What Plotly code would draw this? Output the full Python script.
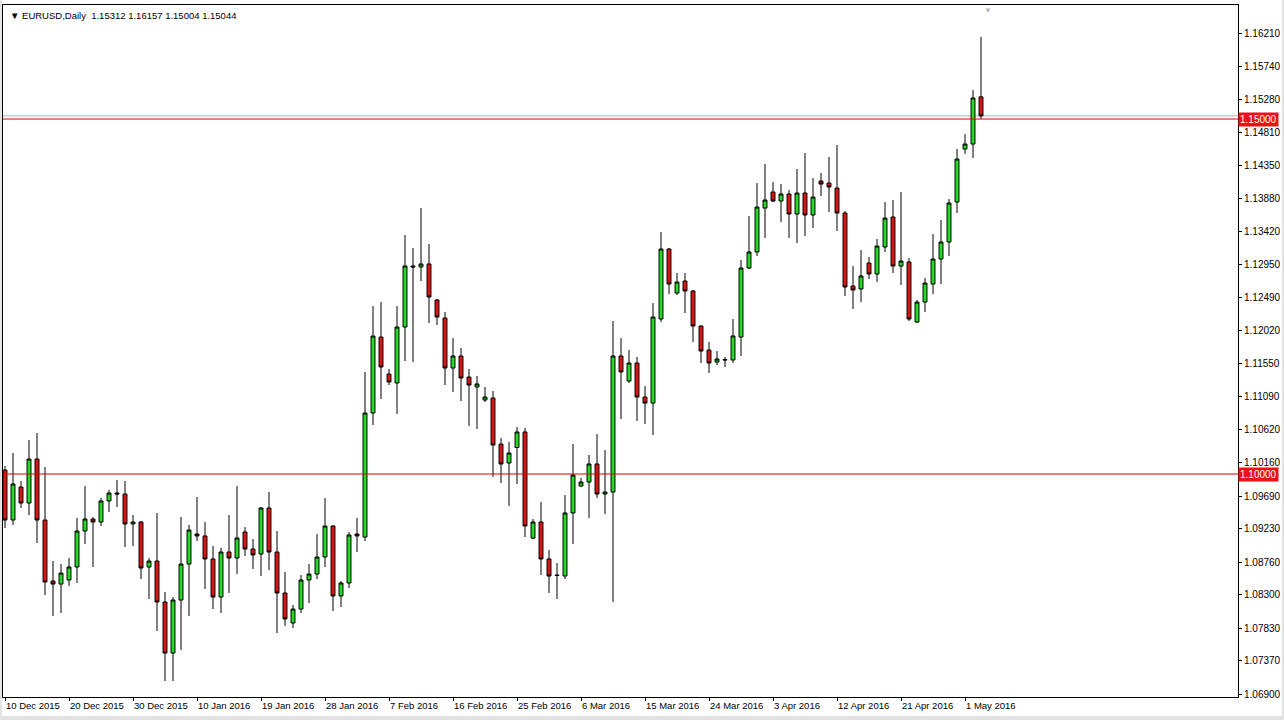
import plotly.graph_objects as go

dates = [
    "2015-12-10", "2015-12-11", "2015-12-13", "2015-12-14", "2015-12-15", "2015-12-16", "2015-12-17", "2015-12-18",
    "2015-12-20", "2015-12-21", "2015-12-22", "2015-12-23", "2015-12-24", "2015-12-27", "2015-12-28", "2015-12-29",
    "2015-12-30", "2015-12-31", "2016-01-03", "2016-01-04", "2016-01-05", "2016-01-06", "2016-01-07", "2016-01-08",
    "2016-01-10", "2016-01-11", "2016-01-12", "2016-01-13", "2016-01-14", "2016-01-15", "2016-01-17", "2016-01-18",
    "2016-01-19", "2016-01-20", "2016-01-21", "2016-01-22", "2016-01-24", "2016-01-25", "2016-01-26", "2016-01-27",
    "2016-01-28", "2016-01-29", "2016-01-31", "2016-02-01", "2016-02-02", "2016-02-03", "2016-02-04", "2016-02-05",
    "2016-02-07", "2016-02-08", "2016-02-09", "2016-02-10", "2016-02-11", "2016-02-12", "2016-02-14", "2016-02-15",
    "2016-02-16", "2016-02-17", "2016-02-18", "2016-02-19", "2016-02-21", "2016-02-22", "2016-02-23", "2016-02-24",
    "2016-02-25", "2016-02-26", "2016-02-28", "2016-02-29", "2016-03-01", "2016-03-02", "2016-03-03", "2016-03-04",
    "2016-03-06", "2016-03-07", "2016-03-08", "2016-03-09", "2016-03-10", "2016-03-11", "2016-03-13", "2016-03-14",
    "2016-03-15", "2016-03-16", "2016-03-17", "2016-03-18", "2016-03-20", "2016-03-21", "2016-03-22", "2016-03-23",
    "2016-03-24", "2016-03-25", "2016-03-27", "2016-03-28", "2016-03-29", "2016-03-30", "2016-03-31", "2016-04-01",
    "2016-04-03", "2016-04-04", "2016-04-05", "2016-04-06", "2016-04-07", "2016-04-08", "2016-04-10", "2016-04-11",
    "2016-04-12", "2016-04-13", "2016-04-14", "2016-04-15", "2016-04-17", "2016-04-18", "2016-04-19", "2016-04-20",
    "2016-04-21", "2016-04-22", "2016-04-24", "2016-04-25", "2016-04-26", "2016-04-27", "2016-04-28", "2016-04-29",
    "2016-05-01", "2016-05-02", "2016-05-03",
]

opens = [
    1.10056, 1.09352, 1.09816, 1.09591, 1.10211, 1.09352, 1.08493, 1.08450, 1.08507, 1.08690,
    1.09197, 1.09366, 1.09324, 1.09620, 1.09732, 1.09718, 1.09296, 1.09324, 1.08690, 1.08774,
    1.08197, 1.07478, 1.08225, 1.08732, 1.09155, 1.09127, 1.08803, 1.08267, 1.08901, 1.08817,
    1.09183, 1.08943, 1.08873, 1.09521, 1.08901, 1.08324, 1.07901, 1.08098, 1.08507, 1.08591,
    1.08831, 1.09267, 1.08282, 1.08465, 1.09155, 1.09112, 1.10859, 1.11929, 1.11408, 1.11282,
    1.12070, 1.12930, 1.12916, 1.12958, 1.12451, 1.12197, 1.11493, 1.11662, 1.11366, 1.11225,
    1.11042, 1.11070, 1.10422, 1.10155, 1.10373, 1.10592, 1.09098, 1.09324, 1.08803, 1.08577,
    1.08563, 1.09451, 1.09831, 1.09887, 1.10141, 1.09718, 1.09746, 1.11662, 1.11310, 1.11563,
    1.11084, 1.10999, 1.12183, 1.13169, 1.12549, 1.12718, 1.12577, 1.12084, 1.11746, 1.11577,
    1.11613, 1.11606, 1.11929, 1.12901, 1.13127, 1.13746, 1.13972, 1.13845, 1.13944, 1.13662,
    1.13958, 1.13648, 1.14127, 1.14098, 1.14028, 1.13676, 1.12648, 1.12606, 1.12972, 1.12817,
    1.13197, 1.13620, 1.12929, 1.12986, 1.12141, 1.12422, 1.12676, 1.13028, 1.13268, 1.13831,
    1.14577, 1.14648, 1.15312,
]
highs = [
    1.10112, 1.10296, 1.09901, 1.10479, 1.10577, 1.10098, 1.08774, 1.08732, 1.08817, 1.09380,
    1.09831, 1.09394, 1.09662, 1.09775, 1.09915, 1.09901, 1.09422, 1.09338, 1.08817, 1.09451,
    1.08338, 1.08267, 1.09394, 1.09282, 1.09676, 1.09324, 1.08986, 1.08958, 1.09422, 1.09831,
    1.09253, 1.09084, 1.09535, 1.09746, 1.09197, 1.08620, 1.08155, 1.08577, 1.08732, 1.09155,
    1.09662, 1.09282, 1.08493, 1.09183, 1.09380, 1.11436, 1.12366, 1.12422, 1.11479, 1.12366,
    1.13366, 1.13183, 1.13746, 1.13239, 1.12465, 1.12282, 1.11915, 1.11774, 1.11479, 1.11380,
    1.11225, 1.11169, 1.10507, 1.10451, 1.10662, 1.10648, 1.09366, 1.09606, 1.08929, 1.08746,
    1.09704, 1.10422, 1.09944, 1.10268, 1.10563, 1.10338, 1.12155, 1.11915, 1.11746, 1.11648,
    1.11239, 1.12408, 1.13408, 1.13183, 1.12831, 1.12831, 1.12591, 1.12098, 1.11859, 1.11732,
    1.11648, 1.12183, 1.13014, 1.13634, 1.14098, 1.14366, 1.14113, 1.14085, 1.13999, 1.14296,
    1.14521, 1.14169, 1.14239, 1.14465, 1.14634, 1.13704, 1.12929, 1.13155, 1.13056, 1.13310,
    1.13831, 1.13859, 1.13972, 1.13042, 1.12451, 1.12761, 1.13380, 1.13577, 1.13873, 1.14577,
    1.14789, 1.15408, 1.16157,
]
lows = [
    1.09239, 1.09281, 1.09521, 1.09422, 1.09028, 1.08295, 1.08000, 1.08042, 1.08422, 1.08465,
    1.09014, 1.08690, 1.09267, 1.09465, 1.09535, 1.08972, 1.08986, 1.08521, 1.08239, 1.07788,
    1.07084, 1.07084, 1.07521, 1.08000, 1.09056, 1.08380, 1.08098, 1.08042, 1.08324, 1.08591,
    1.08845, 1.08662, 1.08563, 1.08648, 1.07760, 1.07859, 1.07831, 1.08042, 1.08183, 1.08521,
    1.08690, 1.08070, 1.08126, 1.08394, 1.08901, 1.09056, 1.10690, 1.11056, 1.11253, 1.10845,
    1.11591, 1.11577, 1.12718, 1.12127, 1.12099, 1.11253, 1.11155, 1.11028, 1.10676, 1.10634,
    1.11014, 1.09958, 1.09873, 1.09549, 1.09859, 1.09112, 1.09084, 1.08577, 1.08324, 1.08239,
    1.08521, 1.09014, 1.09817, 1.09380, 1.09662, 1.09436, 1.08197, 1.10775, 1.11282, 1.10746,
    1.10704, 1.10549, 1.12141, 1.12535, 1.12521, 1.12267, 1.11859, 1.11563, 1.11422, 1.11535,
    1.11507, 1.11563, 1.11662, 1.12887, 1.13070, 1.13324, 1.13831, 1.13549, 1.13324, 1.13253,
    1.13352, 1.13465, 1.13916, 1.13690, 1.13423, 1.12507, 1.12324, 1.12422, 1.12746, 1.12704,
    1.13127, 1.12831, 1.12662, 1.12155, 1.12127, 1.12282, 1.12535, 1.12676, 1.13070, 1.13676,
    1.14507, 1.14451, 1.15004,
]
closes = [
    1.09352, 1.09859, 1.09591, 1.10211, 1.09352, 1.08479, 1.08450, 1.08605, 1.08690, 1.09197,
    1.09366, 1.09324, 1.09620, 1.09732, 1.09718, 1.09296, 1.09324, 1.08676, 1.08774, 1.08197,
    1.07478, 1.08225, 1.08732, 1.09211, 1.09127, 1.08803, 1.08267, 1.08901, 1.08817, 1.09099,
    1.08943, 1.08859, 1.09521, 1.08901, 1.08324, 1.07958, 1.08098, 1.08507, 1.08591, 1.08831,
    1.09267, 1.08282, 1.08465, 1.09141, 1.09127, 1.10859, 1.11943, 1.11507, 1.11296, 1.12070,
    1.12930, 1.12916, 1.12958, 1.12493, 1.12211, 1.11493, 1.11662, 1.11352, 1.11253, 1.11268,
    1.11084, 1.10408, 1.10141, 1.10296, 1.10592, 1.09268, 1.09324, 1.08803, 1.08563, 1.08570,
    1.09451, 1.09986, 1.09887, 1.10141, 1.09718, 1.09746, 1.11662, 1.11437, 1.11563, 1.11084,
    1.10999, 1.12211, 1.13169, 1.12676, 1.12704, 1.12577, 1.12084, 1.11732, 1.11563, 1.11620,
    1.11606, 1.11944, 1.12901, 1.13127, 1.13760, 1.13859, 1.13845, 1.13944, 1.13662, 1.13958,
    1.13648, 1.13901, 1.14084, 1.14042, 1.13676, 1.12634, 1.12591, 1.12789, 1.12817, 1.13211,
    1.13605, 1.12929, 1.13000, 1.12183, 1.12422, 1.12690, 1.13028, 1.13268, 1.13817, 1.14436,
    1.14648, 1.15296, 1.15044,
]

tick_dates = ["2015-12-10", "2015-12-20", "2015-12-30", "2016-01-10", "2016-01-19", "2016-01-28",
              "2016-02-07", "2016-02-16", "2016-02-25", "2016-03-06", "2016-03-15", "2016-03-24",
              "2016-04-03", "2016-04-12", "2016-04-21", "2016-05-01"]
tick_labels = ["10 Dec 2015", "20 Dec 2015", "30 Dec 2015", "10 Jan 2016", "19 Jan 2016", "28 Jan 2016",
               "7 Feb 2016", "16 Feb 2016", "25 Feb 2016", "6 Mar 2016", "15 Mar 2016", "24 Mar 2016",
               "3 Apr 2016", "12 Apr 2016", "21 Apr 2016", "1 May 2016"]
price_ticks = [1.16210, 1.15740, 1.15280, 1.14810, 1.14350, 1.13880, 1.13420, 1.12950, 1.12490,
               1.12020, 1.11550, 1.11090, 1.10620, 1.10160, 1.09690, 1.09230, 1.08760, 1.08300,
               1.07830, 1.07370, 1.06900]
level_lines = [1.15000, 1.10000]
bid_price = 1.15044
title_text = "▼ EURUSD,Daily  1.15312 1.16157 1.15004 1.15044"

FONT = "Liberation Sans, Arial, sans-serif"

fig = go.Figure()
fig.add_trace(go.Candlestick(
    x=dates, open=opens, high=highs, low=lows, close=closes,
    increasing=dict(line=dict(color="black", width=1), fillcolor="#22dd22"),
    decreasing=dict(line=dict(color="black", width=1), fillcolor="#dd1414"),
    whiskerwidth=0, hoverinfo="skip", showlegend=False,
))

shapes = [dict(type="line", xref="paper", x0=0, x1=1, yref="y", y0=bid_price, y1=bid_price,
               line=dict(color="#b4b4b4", width=1), layer="below")]
for lv in level_lines:
    shapes.append(dict(type="line", xref="paper", x0=0, x1=1, yref="y", y0=lv, y1=lv,
                       line=dict(color="#e00000", width=1)))
# light grey window frame around the whole picture
frame = "#e2e2e2"
shapes += [
    dict(type="rect", xref="paper", yref="paper", x0=-0.0025, x1=1.0373, y0=-0.0333, y1=-0.0275,
         fillcolor=frame, line=dict(width=0), layer="below"),
    dict(type="rect", xref="paper", yref="paper", x0=-0.0025, x1=-0.0010, y0=-0.0333, y1=1.0073,
         fillcolor=frame, line=dict(width=0), layer="below"),
    dict(type="rect", xref="paper", yref="paper", x0=1.0357, x1=1.0373, y0=-0.0333, y1=1.0073,
         fillcolor=frame, line=dict(width=0), layer="below"),
]

annotations = [dict(xref="paper", x=0, xanchor="left", xshift=5, yref="paper", y=1, yanchor="top", yshift=-3,
                    text=title_text, showarrow=False, font=dict(family=FONT, size=9.5, color="black"))]
for lv in level_lines:
    annotations.append(dict(xref="paper", x=1, xanchor="left", xshift=0, yref="y", y=lv, yanchor="middle",
                            text=f"{lv:.5f}", showarrow=False, bgcolor="#ee1111", borderpad=1,
                            font=dict(family=FONT, size=10, color="white")))
annotations.append(dict(xref="paper", x=0.7976, xanchor="center", yref="paper", y=1, yanchor="top", yshift=1,
                        text="▼", showarrow=False, font=dict(family=FONT, size=8, color="#b8b8b8")))

fig.update_layout(
    width=1284, height=720,
    margin=dict(l=3, r=46, t=5, b=23),
    paper_bgcolor="white", plot_bgcolor="white",
    shapes=shapes, annotations=annotations,
    xaxis=dict(type="category", range=[-0.25, 154.125], rangeslider=dict(visible=False),
               tickvals=tick_dates, ticktext=tick_labels, ticks="outside", ticklen=3, tickcolor="black",
               ticklabelposition="outside right", showgrid=False, zeroline=False,
               showline=True, linecolor="black", linewidth=1, mirror=True,
               tickfont=dict(family=FONT, size=9.5, color="black")),
    yaxis=dict(side="right", range=[1.06859, 1.16606], tickvals=price_ticks,
               ticktext=[f"{v:.5f}" for v in price_ticks], ticks="outside", ticklen=3, tickcolor="black",
               showgrid=False, zeroline=False, showline=True, linecolor="black", linewidth=1, mirror=True,
               tickfont=dict(family=FONT, size=10, color="black")),
)

fig.write_html("out.html", config={"displayModeBar": False},
               post_script="document.body.style.margin='0';")
